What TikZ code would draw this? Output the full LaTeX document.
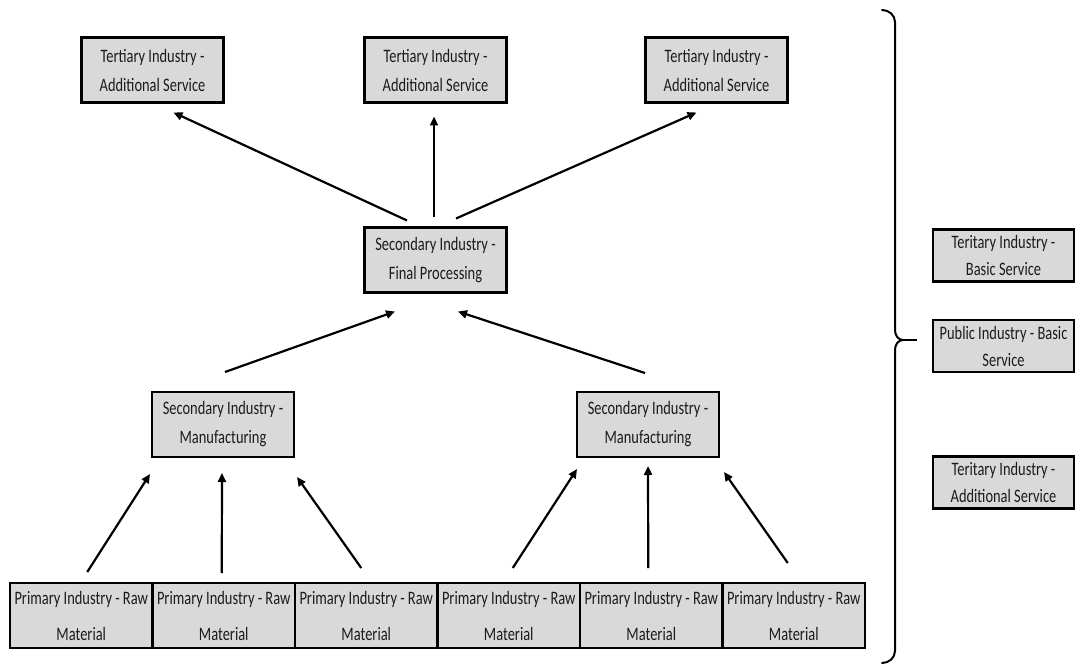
\documentclass[tikz,border=0pt]{standalone}
\usepackage{fontspec}
\setmainfont{Carlito}[FakeStretch=0.76]
\usetikzlibrary{arrows.meta,positioning,calc}
\usepackage{xcolor}
\definecolor{boxgray}{HTML}{D9D9D9}
\definecolor{inkgray}{HTML}{1E1A1A}
\tikzset{
  ind/.style={draw=black,line width=2.6pt,fill=boxgray,align=center,outer sep=0pt,inner sep=0pt,minimum width=142pt,minimum height=65pt,text=inkgray,font=\fontsize{19}{29}\selectfont},
  raw/.style={ind,minimum width=142.5pt,font=\fontsize{19}{36}\selectfont},
  side/.style={ind,minimum width=141pt,minimum height=52pt,font=\fontsize{19}{27}\selectfont},
  arr/.style={-{Triangle[length=9pt,width=8pt]},line width=2.2pt,draw=black}
}

\begin{document}
\begin{tikzpicture}[x=1pt,y=-1pt]
    \useasboundingbox[fill=white] (0,0) rectangle (1078,668);
    \node[ind] (fin) at (435.5,260) {Secondary Industry -\\Final Processing};
    \node[ind,above=125pt of fin] (t2) {Tertiary Industry -\\Additional Service};
    \node[ind,left=141pt of t2] (t1) {Tertiary Industry -\\Additional Service};
    \node[ind,right=139pt of t2] (t3) {Tertiary Industry -\\Additional Service};
    \node[ind] (m1) at (223,424.5) {Secondary Industry -\\Manufacturing};
    \node[ind] (m2) at (648,424.5) {Secondary Industry -\\Manufacturing};
    % raw material row
    \node[raw] (b1) at (81.25,615.5) {Primary Industry - Raw\\Material};
    \node[raw,right=0pt of b1] (b2) {Primary Industry - Raw\\Material};
    \node[raw,right=0pt of b2] (b3) {Primary Industry - Raw\\Material};
    \node[raw,right=0pt of b3] (b4) {Primary Industry - Raw\\Material};
    \node[raw,right=0pt of b4] (b5) {Primary Industry - Raw\\Material};
    \node[raw,right=0pt of b5] (b6) {Primary Industry - Raw\\Material};
    % services beside the brace
    \node[side] (basic) at (1003.5,255.5) {Teritary Industry -\\Basic Service};
    \node[side] (pub) at (1003.5,346) {Public Industry - Basic\\Service};
    \node[side] (addl) at (1003.5,482.5) {Teritary Industry -\\Additional Service};
    % arrows
    \draw[arr] ($(fin.north)+(-28.5,-7)$) -- ($(t1.south)+(21,10)$);
    \draw[arr] ($(fin.north)+(-1.5,-10)$) -- ($(t2.south)+(-1.5,14)$);
    \draw[arr] ($(fin.north)+(20.5,-9)$) -- ($(t3.south)+(-20,10)$);
    \draw[arr] ($(m1.north)+(2,-20)$) -- ($(fin.south)+(-40.5,19)$);
    \draw[arr] ($(m2.north)+(-3,-19)$) -- ($(fin.south)+(22.5,19)$);
    \draw[arr] ($(b1.north)+(6,-11)$) -- ($(m1.south west)+(-2,17)$);
    \draw[arr] ($(b2.north)+(-2,-10)$) -- ($(m1.south)+(-1,16)$);
    \draw[arr] ($(b3.north)+(-5,-15)$) -- ($(m1.south east)+(3,20)$);
    \draw[arr] ($(b4.north)+(4,-15)$) -- ($(m2.south west)+(0,12)$);
    \draw[arr] ($(b5.north)+(-3,-15)$) -- ($(m2.south)+(0,9)$);
    \draw[arr] ($(b6.north)+(-6,-20)$) -- ($(m2.south east)+(5,15)$);
    % brace
    \draw[line width=2pt,line cap=round] (882,10) to[out=0,in=90] (895,22) -- (895,330)
      to[out=-90,in=180] (903,340) to[out=180,in=90] (895,350) -- (895,651) to[out=-90,in=0] (882,663);
    \draw[line width=2pt] (903,340) -- (917,340);
\end{tikzpicture}
\end{document}
